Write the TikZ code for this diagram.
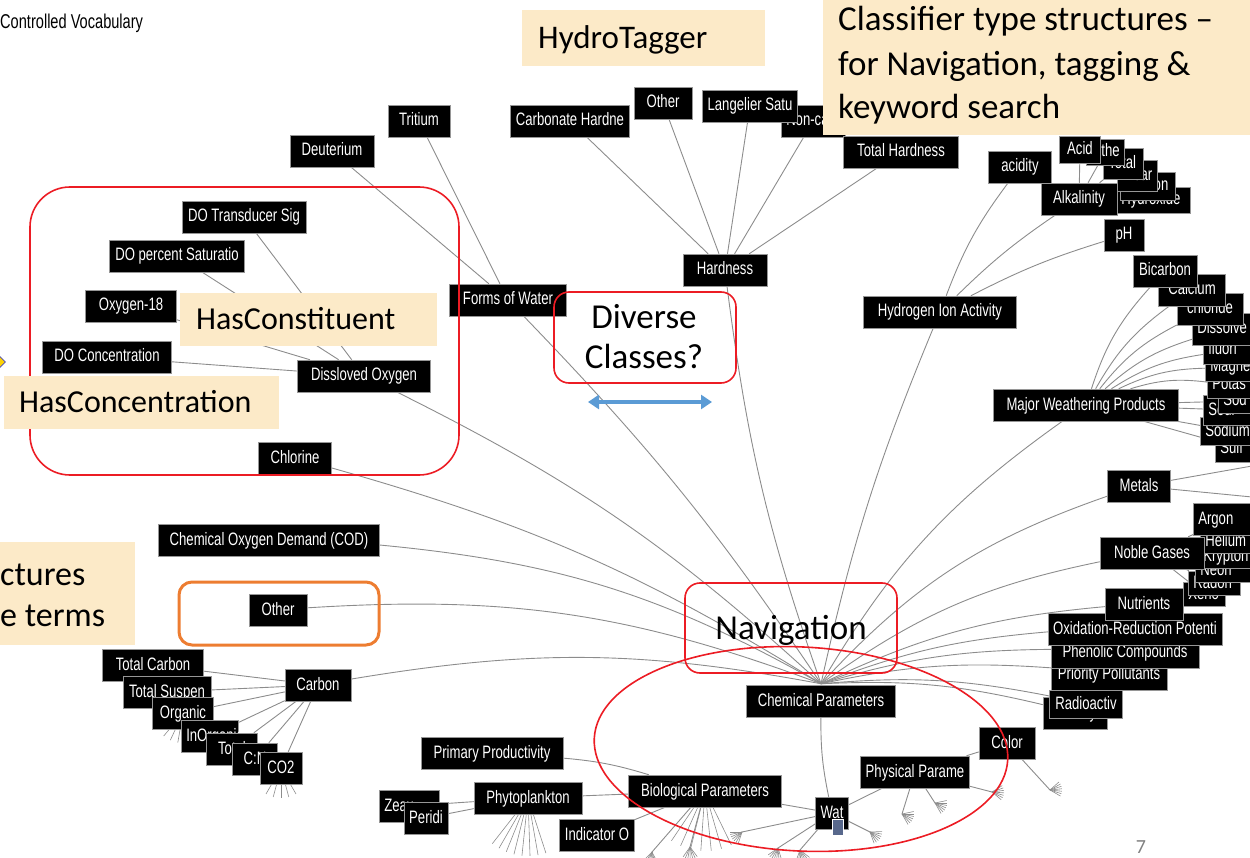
\documentclass[tikz,border=0pt]{standalone}
\usepackage{fontspec}
\setmainfont{Liberation Sans}
\newfontfamily\narrowfont[FakeStretch=0.73]{Liberation Sans}
\newfontfamily\califont{Carlito}
\usetikzlibrary{arrows.meta,shapes.geometric}
\definecolor{beige}{RGB}{252,234,200}
\definecolor{edgegray}{RGB}{140,140,140}
\definecolor{redline}{RGB}{236,28,36}
\definecolor{orangeline}{RGB}{237,125,49}
\definecolor{arrowblue}{RGB}{91,155,213}
\definecolor{squareblue}{RGB}{88,104,140}
\definecolor{boxedge}{RGB}{150,150,150}
\pgfdeclarelayer{bg}
\pgfsetlayers{bg,main}
\begin{document}
\begin{tikzpicture}[x=1pt,y=1pt,
  lbl/.style={fill=black, draw=boxedge, line width=0.5pt, text=white,
    font=\narrowfont\fontsize{18}{20}\selectfont, inner xsep=5pt, inner ysep=0pt,
    text height=13pt, text depth=3pt, minimum height=32pt, minimum width=#1},
  lbl/.default=10pt,
  lblw/.style={lbl, anchor=west, align=left, text width=#1},
  edge/.style={draw=edgegray, line width=0.9pt},
  twig/.style={draw=edgegray, line width=0.6pt},
  callout/.style={fill=beige, inner sep=0pt, anchor=north west},
  califnt/.style={font=\califont\fontsize{#1}{#1}\selectfont, text=black, inner sep=0pt, anchor=base west},
  frame/.style={draw=redline, line width=1.6pt, rounded corners=#1},
]
\useasboundingbox (0,-858) rectangle (1250,0);

% ---------- title ----------
\node[anchor=base west, inner sep=0pt, font=\narrowfont\fontsize{20}{22}\selectfont] (cv) at (0,-29) {Controlled Vocabulary};

% ---------- forms of water ----------
\node[lbl=62pt] (tritium) at (419,-121) {Tritium};
\node[lbl=84pt] (deut) at (332,-151) {Deuterium};
\node[lbl=117pt] (forms) at (508,-300) {Forms of Water};

% ---------- hardness ----------
\node[lbl=119pt] (carbh) at (570,-121) {Carbonate Hardne};
\node[lbl=58pt] (othert) at (663,-103) {Other};
\node[lbl, anchor=west] (nonc) at (781,-121) {Non-carb};
\node[lbl=95pt] (lang) at (750,-106) {Langelier Satu};
\node[lbl=115pt] (toth) at (901,-152) {Total Hardness};
\node[lbl=84pt] (hard) at (725,-270) {Hardness};

% ---------- dissolved oxygen ----------
\node[lbl=124pt] (dotr) at (244,-217) {DO Transducer Sig};
\node[lbl=135pt] (dopc) at (177,-256) {DO percent Saturatio};
\node[lbl=91pt] (o18) at (131,-306) {Oxygen-18};
\node[lbl=129pt] (docon) at (107,-357) {DO Concentration};
\node[lbl=133pt] (dox) at (364,-376) {Dissloved Oxygen};
\node[lbl=73pt] (chlor) at (295,-458) {Chlorine};

% ---------- hydrogen ion activity ----------
\node[lbl=153pt] (hia) at (940,-312) {Hydrogen Ion Activity};
\node[lbl=63pt] (acidity) at (1020,-167) {acidity};
\node[lblw=64pt, minimum height=26pt] (hydrox) at (1116,-200) {Hydroxide};
\node[lblw=45pt, minimum height=28pt] (carbo) at (1120,-186) {Carbon};
\node[lblw=30pt, minimum height=31pt] (bicar) at (1117,-176) {Bicar};
\node[lblw=30pt, minimum height=31pt] (totala) at (1103,-164) {Total};
\node[lblw=28pt, minimum height=26pt] (othea) at (1086,-152) {Othe};
\node[lbl=41pt, minimum height=27pt] (acid) at (1080,-150) {Acid};
\node[lbl=76pt] (alkal) at (1079,-199) {Alkalinity};
\node[lbl=40pt] (ph) at (1124,-235) {pH};

% ---------- major weathering products ----------
\node[lblw=37pt, minimum height=28pt] (sulf) at (1215,-448) {Sulf};
\node[lblw=52pt, minimum height=28pt] (sodb) at (1200,-431) {Sodium};
\node[lblw=49pt, minimum height=30pt] (soda) at (1203,-410) {Sodi};
\node[lblw=34pt, minimum height=24pt] (sod) at (1218,-401) {Sod};
\node[lblw=45pt, minimum height=28pt] (potas) at (1207,-384) {Potas};
\node[lblw=47pt, minimum height=28pt] (magne) at (1205,-367) {Magne};
\node[lblw=49pt, minimum height=28pt] (fluor) at (1203,-350) {fluori};
\node[lblw=60pt] (dissv) at (1192,-329) {Dissolve};
\node[lbl=66pt] (chlorid) at (1210,-309) {chloride};
\node[lbl=67pt] (calc) at (1192,-290) {Calcium};
\node[lbl=64pt] (bicarb) at (1165,-271) {Bicarbon};
\node[lbl=185pt] (mwp) at (1086,-405) {Major Weathering Products};

% ---------- metals / noble gases ----------
\node[lbl=63pt] (metals) at (1139,-486) {Metals};
\node[lblw=32pt, minimum height=24pt] (xenon) at (1183,-594) {Xeno};
\node[lblw=42pt, minimum height=24pt] (radon) at (1188,-583) {Radon};
\node[lblw=57pt, minimum height=24pt] (neon) at (1195,-570) {Neon};
\node[lblw=54pt, minimum height=24pt] (krypton) at (1198,-556) {Krypton};
\node[lblw=52pt, minimum height=24pt] (helium) at (1200,-541) {Helium};
\node[lblw=59pt] (argon) at (1193,-519) {Argon};
\node[lbl=104pt] (noble) at (1152,-553) {Noble Gases};

% ---------- lower right stack ----------
\node[lbl=64pt] (salin) at (1075,-713) {Salinity};
\node[lbl=73pt, minimum height=28pt] (radio) at (1086,-704) {Radioactiv};
\node[lbl=116pt] (prio) at (1109,-674) {Priority Pollutants};
\node[lbl=148pt] (phen) at (1125,-652) {Phenolic Compounds};
\node[lbl=174pt] (oxid) at (1135,-629) {Oxidation-Reduction Potenti};
\node[lbl=78pt] (nutr) at (1144,-604) {Nutrients};

% ---------- root region ----------
\node[lbl=149pt] (chem) at (821,-701) {Chemical Parameters};
\node[lbl=33pt] (wat) at (832,-813) {Wat};
\node[fill=squareblue, draw=white, line width=0.4pt, minimum width=11pt, minimum height=16pt, inner sep=0pt] (sq) at (838,-827) {};
\node[lbl=56pt] (color) at (1007,-743) {Color};
\node[lbl=107pt] (phys) at (915,-772) {Physical Parame};
\node[lbl=153pt] (bio) at (705,-791) {Biological Parameters};
\node[lbl=142pt] (prim) at (492,-753) {Primary Productivity};
\node[lbl=108pt] (phyto) at (528,-798) {Phytoplankton};
\node[lblw=50pt] (zea) at (379,-806) {Zeax};
\node[lbl=44pt] (peridi) at (426,-818) {Peridi};
\node[lbl=75pt] (indic) at (597,-835) {Indicator O};

% ---------- left ----------
\node[lbl=221pt] (cod) at (269,-540) {Chemical Oxygen Demand (COD)};
\node[lbl=58pt] (otherb) at (278,-610) {Other};
\node[lbl=101pt] (tcarb) at (153,-665) {Total Carbon};
\node[lbl=88pt] (tsusp) at (167,-692) {Total Suspen};
\node[lbl=61pt] (organic) at (183,-713) {Organic};
\node[lblw=47pt] (inorg) at (181,-736) {InOrganic};
\node[lbl=51pt] (tota) at (232,-749) {Total};
\node[lbl=45pt] (cn) at (255,-759) {C:N};
\node[lbl=42pt] (co2) at (281,-768) {CO2};
\node[lbl=66pt] (carbon) at (318,-685) {Carbon};

\node[diamond, fill=yellow!70!orange, draw=blue!45!gray, line width=0.8pt, minimum size=11pt, inner sep=0pt] (dmd) at (0,-362) {};

% ---------- connectors ----------
\begin{pgfonlayer}{bg}
\coordinate (hub) at ([yshift=1pt]chem.north);
\draw[edge] (hub) to[bend right=5] (forms);
\draw[edge] (hub) to[bend left=6] (hard);
\draw[edge] (hub) to[bend left=5] (hia);
\draw[edge] (hub) to[bend right=8] (dox);
\draw[edge] (hub) to[bend right=8] (chlor);
\draw[edge] (hub) to[bend right=12] (cod);
\draw[edge] (hub) to[bend right=12] (otherb);
\draw[edge] (hub) to[bend right=10] (carbon);
\draw[edge] (hub) to[bend left=12] (mwp);
\draw[edge] (hub) to[bend left=14] (metals);
\draw[edge] (hub) to[bend left=12] (noble);
\draw[edge] (hub) to[bend left=10] (nutr);
\draw[edge] (hub) to[bend left=8] (oxid);
\draw[edge] (hub) to[bend left=8] (phen);
\draw[edge] (hub) to[bend left=8] (prio);
\draw[edge] (hub) to[bend left=8] (radio);
\draw[edge] (hub) to[bend left=8] (salin);

\draw[edge] (deut) -- (forms);
\draw[edge] (tritium) -- (forms);
\foreach \n in {carbh,othert,lang,nonc,toth} \draw[edge] (\n) -- (hard);
\foreach \n in {dotr,dopc,o18,docon} \draw[edge] (\n) -- (dox);
\draw[edge] (acidity) to[bend right=8] (hia);
\draw[edge] (alkal) to[bend right=5] (hia);
\draw[edge] (ph) to[bend right=5] (hia);
\foreach \n in {acid,othea,totala,bicar,carbo,hydrox} \draw[edge] (alkal) -- (\n);
\foreach \n in {bicarb,calc,chlorid,dissv,fluor,magne,potas} \draw[edge] (mwp) to[bend left=12] (\n);
\foreach \n in {sod,soda,sodb,sulf} \draw[edge] (mwp) -- (\n);
\coordinate (mc1) at (1252,-466);
\coordinate (mc2) at (1252,-497);
\draw[edge] (metals) -- (mc1);
\draw[edge] (metals) -- (mc2);
\foreach \n in {argon,helium,krypton,neon,radon,xenon} \draw[edge] (noble) -- (\n);
\foreach \n in {tcarb,tsusp,organic,inorg,tota,cn,co2} \draw[edge] (carbon) -- (\n);
\draw[edge] (chem) to[bend right=6] (wat);
\draw[edge] (phys) -- (wat);
\draw[edge] (bio) -- (wat);
\draw[edge] (color) -- (phys);
\draw[edge] (prim) to[bend left=6] (bio);
\draw[edge] (phyto) -- (bio);
\draw[edge] (indic) -- (bio);
\draw[edge] (zea) -- (phyto);
\draw[edge] (peridi) -- (phyto);

% leaf fans
\foreach \a in {232,240,...,290} \draw[twig] (phyto.center) -- ++(\a:58);
\foreach \a in {236,246,...,300} \draw[twig] (bio.center) -- ++(\a:60);
\foreach \a in {240,255,...,300} \draw[twig] (co2.center) -- ++(\a:30);
\foreach \a in {230,245,...,290} \draw[twig] (organic.center) -- ++(\a:30);
\foreach \n/\p/\x/\y/\d in {F1/wat/742/832/180, F2/wat/778/848/215, F3/wat/870/832/290,
   F4/phys/902/814/300, F5/phys/935/803/300, F6/phys/992/792/320, F7/color/1050/790/330,
   F8/bio/690/847/235, F9/bio/652/852/225, F10/wat/800/850/250}{
  \coordinate (\n) at (\x,-\y);
  \draw[edge] (\p) -- (\n);
  \foreach \k in {0,12,...,72} \draw[twig] (\n) -- ++({\d+\k}:12);
}
\end{pgfonlayer}

% ---------- frames ----------
\draw[frame=40pt] (30,-187) rectangle (459,-475);
\draw[frame=15pt] (554,-292) rectangle (736,-383);
\draw[frame=15pt] (685,-583) rectangle (897,-673);
\draw[draw=orangeline, line width=3pt, rounded corners=13pt] (179,-582) rectangle (379,-645);
\draw[draw=redline, line width=1.6pt, rotate around={-3:(801,-749)}] (801,-749) ellipse [x radius=207, y radius=102];

% ---------- callouts ----------
\node[callout, minimum width=243pt, minimum height=56pt] (htbox) at (522,-10) {};
\node[califnt=33] (ht) at (538,-49) {HydroTagger};
\node[callout, minimum width=430pt, minimum height=135pt] (clsbox) at (823,0) {};
\node[califnt=35] (cls1) at (838,-31) {Classifier type structures –};
\node[califnt=35] (cls2) at (838,-76) {for Navigation, tagging \&};
\node[califnt=35] (cls3) at (838,-119) {keyword search};
\node[callout, minimum width=257pt, minimum height=53pt] (hcbox) at (180,-293) {};
\node[califnt=32] (hc) at (196,-330) {HasConstituent};
\node[callout, minimum width=275pt, minimum height=53pt] (hkbox) at (4,-376) {};
\node[califnt=32] (hk) at (19,-413) {HasConcentration};
\node[callout, minimum width=140pt, minimum height=103pt] (ctbox) at (-5,-542) {};
\node[califnt=34] (ct1) at (0,-585) {ctures};
\node[califnt=34] (ct2) at (0,-626) {e terms};

\node[califnt=35, anchor=base] (div1) at (644,-329) {Diverse};
\node[califnt=35, anchor=base] (div2) at (644,-369) {Classes?};
\node[califnt=35, anchor=base] (nav) at (791,-639) {Navigation};
\coordinate (arrL) at (588,-402);
\coordinate (arrR) at (712,-402);
\draw[draw=arrowblue, line width=4pt, {Triangle[width=14pt,length=11pt]}-{Triangle[width=14pt,length=11pt]}] (arrL) -- (arrR);
\node[califnt=20, anchor=base, text=gray] (pg) at (1141,-853) {7};
\end{tikzpicture}
\end{document}
